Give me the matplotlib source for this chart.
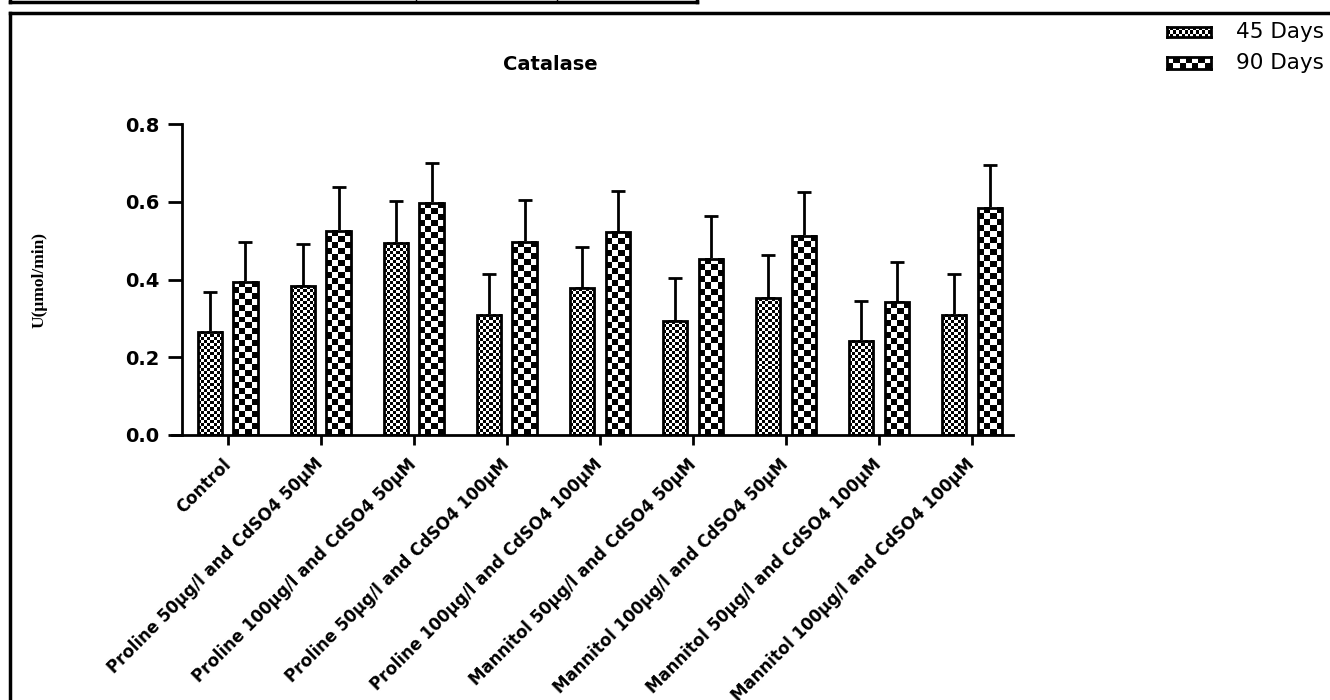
import numpy as np
import matplotlib
matplotlib.use("Agg")
import matplotlib.pyplot as plt
from matplotlib.lines import Line2D

# Catalase activity, U(umol/min), mean and SEM per treatment
treatments = [
    "Control",
    "Proline 50μg/l and CdSO4 50μM",
    "Proline 100μg/l and CdSO4 50μM",
    "Proline 50μg/l and CdSO4 100μM",
    "Proline 100μg/l and CdSO4 100μM",
    "Mannitol 50μg/l and CdSO4 50μM",
    "Mannitol 100μg/l and CdSO4 50μM",
    "Mannitol 50μg/l and CdSO4 100μM",
    "Mannitol 100μg/l and CdSO4 100μM",
]
days_45 = [0.265, 0.383, 0.494, 0.309, 0.378, 0.293, 0.352, 0.242, 0.309]
sem_45 = [0.103, 0.108, 0.108, 0.105, 0.106, 0.111, 0.111, 0.103, 0.105]
days_90 = [0.394, 0.525, 0.597, 0.497, 0.522, 0.453, 0.512, 0.342, 0.584]
sem_90 = [0.103, 0.113, 0.103, 0.108, 0.106, 0.110, 0.113, 0.103, 0.110]
series_labels = ["45 Days", "90 Days"]
y_ticks = [0.0, 0.2, 0.4, 0.6, 0.8]

W, H = 1330, 700
fig = plt.figure(figsize=(W / 100, H / 100), dpi=100)
fig.patch.set_facecolor("white")

# axes box in pixels: left 172, right 1013, bottom 435, top 124
ax = fig.add_axes([172 / W, (H - 435) / H, (1013 - 172) / W, (435 - 124) / H])
xlim = (-0.6, 8.44)
ylim = (0.0, 0.8)
px_x = (1013 - 172) / (xlim[1] - xlim[0])
px_y = (435 - 124) / (ylim[1] - ylim[0])


def checker(n_rows, n_cols):
    return (np.indices((n_rows, n_cols)).sum(axis=0) % 2).astype(float)


def fill_checker(bars, cell_px):
    for b in bars:
        x0, w, h = b.get_x(), b.get_width(), b.get_height()
        n_cols = max(1, int(round(w * px_x / cell_px)))
        n_rows = max(1, int(round(h * px_y / cell_px)))
        ax.imshow(checker(n_rows, n_cols), cmap="gray_r", vmin=0, vmax=1,
                  extent=(x0, x0 + w, 0, h), aspect="auto",
                  interpolation="nearest", zorder=2)


x = np.arange(len(treatments))
bw = 0.26
off = 0.19

ax.errorbar(x - off, days_45, yerr=[np.zeros(len(x)), sem_45], fmt="none",
            ecolor="black", elinewidth=2, capsize=5, capthick=2, zorder=1)
ax.errorbar(x + off, days_90, yerr=[np.zeros(len(x)), sem_90], fmt="none",
            ecolor="black", elinewidth=2, capsize=5, capthick=2, zorder=1)

bars45 = ax.bar(x - off, days_45, bw, fill=False, edgecolor="black", lw=2, zorder=3)
bars90 = ax.bar(x + off, days_90, bw, fill=False, edgecolor="black", lw=2, zorder=3)
fill_checker(bars45, 3)
fill_checker(bars90, 6)

ax.set_xlim(*xlim)
ax.set_ylim(*ylim)
ax.spines["top"].set_visible(False)
ax.spines["right"].set_visible(False)
ax.spines["left"].set_position(("data", -0.495))
for s in ("left", "bottom"):
    ax.spines[s].set_linewidth(2)

ax.set_yticks(y_ticks)
ax.set_yticklabels([f"{t:.1f}" for t in y_ticks], fontsize=14,
                   fontweight="bold", family="DejaVu Sans")
ax.tick_params(axis="y", length=10, width=2, direction="out", pad=6)
ax.set_xticks(x)
ax.set_xticklabels(treatments, rotation=45, ha="right", va="center",
                   rotation_mode="anchor", fontsize=12, fontweight="bold",
                   family="DejaVu Sans")
ax.tick_params(axis="x", length=7, width=2, direction="out", pad=12)

fig.text(550 / W, 1 - 64 / H, "Catalase", ha="center", va="center",
         fontsize=14, fontweight="bold", family="DejaVu Sans")
fig.text(40 / W, 1 - 280 / H, "U(μmol/min)", ha="center", va="center",
         rotation=90, fontsize=12.5, fontweight="bold", family="Liberation Serif")

# legend swatches
for i, (label, cell) in enumerate(zip(series_labels, [3, 6])):
    top = 27 + i * 30
    hgt = 10 if i == 0 else 12
    lax = fig.add_axes([1167 / W, 1 - (top + hgt) / H, 44 / W, hgt / H])
    lax.imshow(checker(int(round(hgt / cell)), int(round(44 / cell))), cmap="gray_r",
               vmin=0, vmax=1, aspect="auto", interpolation="nearest")
    lax.set_xticks([])
    lax.set_yticks([])
    for s in lax.spines.values():
        s.set_linewidth(2)
    fig.text(1236 / W, 1 - (top + hgt / 2) / H, label, ha="left", va="center",
             fontsize=15.5, family="DejaVu Sans")

# surrounding frame and table edge
frame = dict(transform=fig.transFigure, color="black", lw=2.5)
fig.add_artist(Line2D([10 / W, 10 / W], [0, 1 - 13 / H], **frame))
fig.add_artist(Line2D([10 / W, 1], [1 - 13 / H, 1 - 13 / H], **frame))
fig.add_artist(Line2D([10 / W, 697 / W], [1 - 2 / H, 1 - 2 / H], **frame))
for xv in (10, 697):
    fig.add_artist(Line2D([xv / W, xv / W], [1 - 2 / H, 1], **frame))
for xv in (416, 557):
    fig.add_artist(Line2D([xv / W, xv / W], [1 - 2 / H, 1],
                          transform=fig.transFigure, color="black", lw=1))

fig.savefig("out.png", dpi=100, facecolor="white")
